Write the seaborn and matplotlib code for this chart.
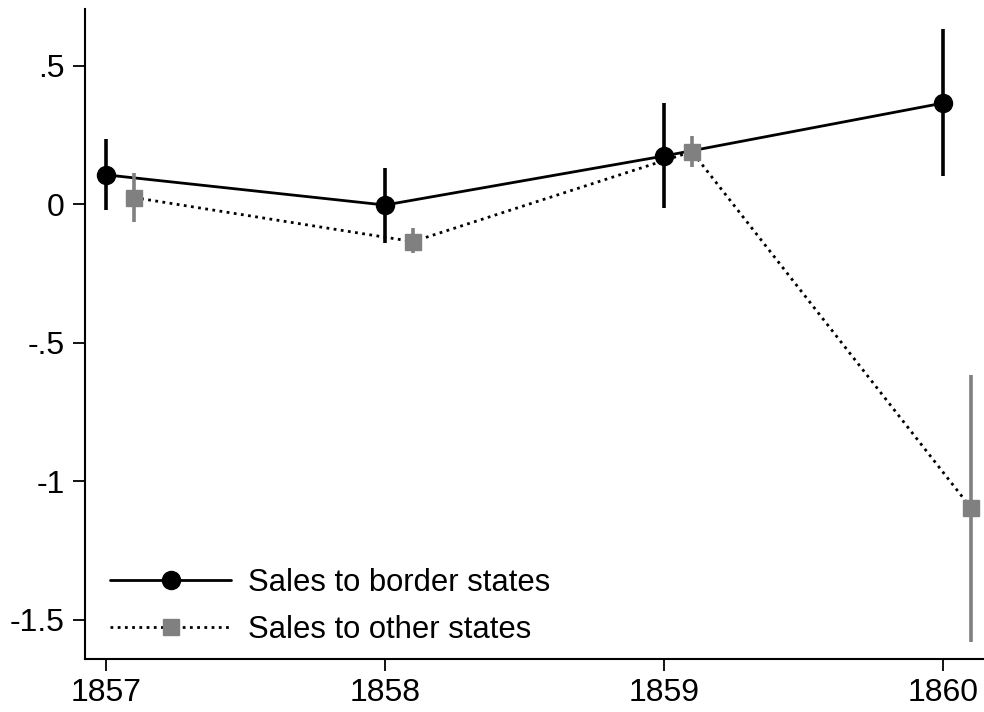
import numpy as np
import pandas as pd
import matplotlib
matplotlib.use("Agg")
import matplotlib.pyplot as plt
import seaborn as sns

# Yearly coefficients with 95% confidence bounds
years = [1857, 1858, 1859, 1860]
border_est = [0.106, -0.003, 0.174, 0.365]
border_lo = [-0.021, -0.139, -0.014, 0.102]
border_hi = [0.235, 0.130, 0.367, 0.632]
other_est = [0.024, -0.135, 0.190, -1.096]
other_lo = [-0.063, -0.177, 0.134, -1.579]
other_hi = [0.114, -0.087, 0.247, -0.616]
series_names = ["Sales to border states", "Sales to other states"]
yticks = [0.5, 0.0, -0.5, -1.0, -1.5]
ytick_labels = [".5", "0", "-.5", "-1", "-1.5"]
offset = 0.1  # horizontal shift of the second series

sns.set_theme(style="white")
plt.rcParams["font.family"] = ["Liberation Sans", "DejaVu Sans"]
plt.rcParams["text.color"] = "black"

df = pd.concat([
    pd.DataFrame({"year": years, "est": border_est, "lo": border_lo,
                  "hi": border_hi, "series": series_names[0]}),
    pd.DataFrame({"year": [y + offset for y in years], "est": other_est,
                  "lo": other_lo, "hi": other_hi, "series": series_names[1]}),
])

fig = plt.figure(figsize=(9.84, 7.12), dpi=100)
ax = fig.add_axes([85 / 984, 1 - 659 / 712, (984 - 85) / 984, (659 - 9) / 712])

styles = {
    series_names[0]: dict(color="black", ls="-", marker="o", ms=13, ecol="black", z=3),
    series_names[1]: dict(color="black", ls=(0, (1, 1.6)), marker="s", ms=12,
                          ecol="#808080", z=4),
}

handles = []
for name in series_names:
    sub = df[df["series"] == name]
    st = styles[name]
    ax.vlines(sub["year"], sub["lo"], sub["hi"], color=st["ecol"], lw=2.6,
              zorder=st["z"])
    sns.lineplot(data=sub, x="year", y="est", ax=ax, color=st["color"],
                 linestyle=st["ls"], lw=2.0, zorder=st["z"], legend=False,
                 sort=False, errorbar=None)
    ax.plot(sub["year"], sub["est"], ls="none", marker=st["marker"],
            ms=st["ms"], mfc=st["ecol"], mec=st["ecol"], zorder=st["z"] + 0.5)
    h, = ax.plot([], [], color=st["color"], ls=st["ls"], lw=2.0,
                 marker=st["marker"], ms=st["ms"], mfc=st["ecol"],
                 mec=st["ecol"])
    handles.append(h)

ax.set_xlim(1857 - 21 / 279, 1857 + 878 / 279)
ax.set_ylim(-0.5 - (659 - 342.7) / 277, 0.5 + (66 - 9.3) / 277)
ax.set_xticks(years)
ax.set_xticklabels([str(y) for y in years])
ax.set_yticks(yticks)
ax.set_yticklabels(ytick_labels)
ax.set_xlabel("")
ax.set_ylabel("")

for side in ["top", "right"]:
    ax.spines[side].set_visible(False)
for side in ["left", "bottom"]:
    ax.spines[side].set_color("black")
    ax.spines[side].set_linewidth(1.5)

ax.tick_params(axis="both", which="major", direction="out", length=8.5,
               width=1.3, color="black", labelsize=23, labelcolor="black",
               left=True, bottom=True)
ax.tick_params(axis="x", pad=5)
ax.tick_params(axis="y", pad=6)

ax.legend(handles, series_names, loc="lower left",
          bbox_to_anchor=(0.028, 0.022), frameon=False, fontsize=22.3,
          labelcolor="black", handlelength=3.9, handletextpad=0.55,
          labelspacing=0.55, borderpad=0, borderaxespad=0, numpoints=1)

fig.savefig("out.png", dpi=100)
